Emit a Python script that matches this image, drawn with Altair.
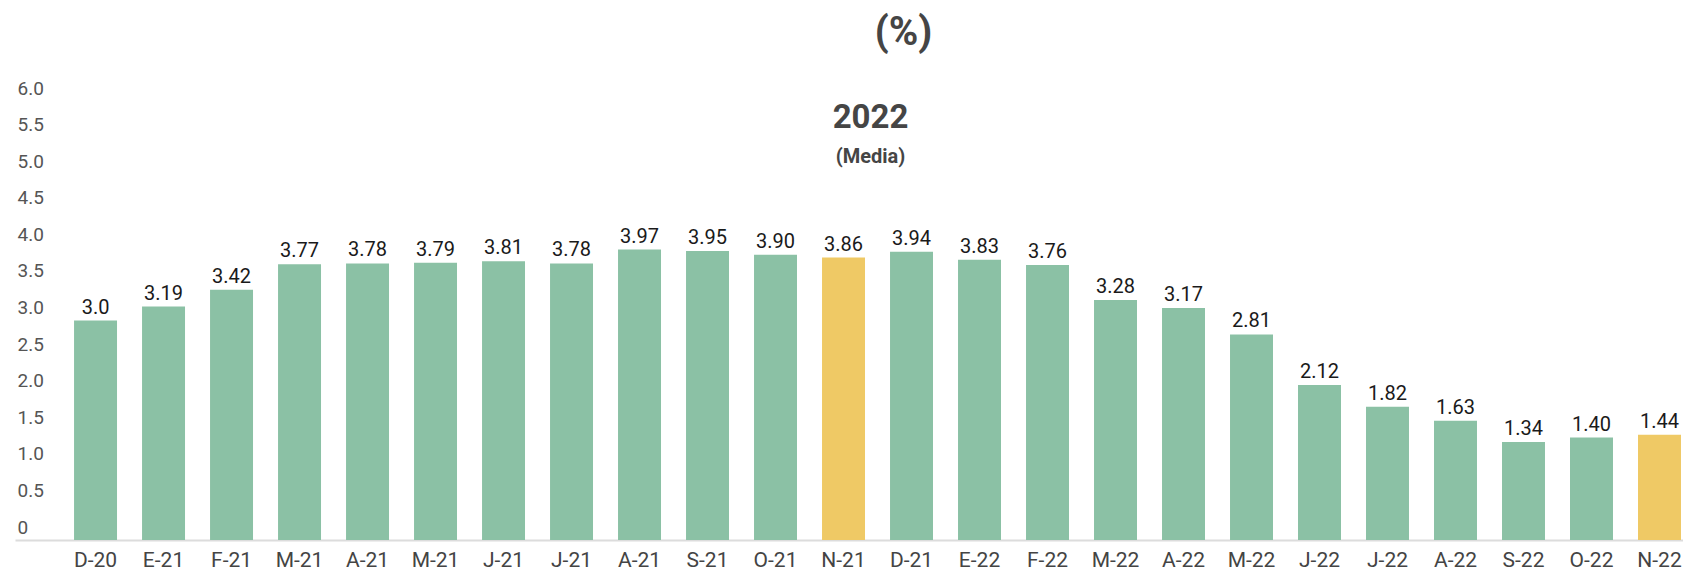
import altair as alt
import pandas as pd

# ---- data -------------------------------------------------------------
month_labels = ["D-20", "E-21", "F-21", "M-21", "A-21", "M-21", "J-21", "J-21",
                "A-21", "S-21", "O-21", "N-21", "D-21", "E-22", "F-22", "M-22",
                "A-22", "M-22", "J-22", "J-22", "A-22", "S-22", "O-22", "N-22"]
values = [3.0, 3.19, 3.42, 3.77, 3.78, 3.79, 3.81, 3.78, 3.97, 3.95, 3.90, 3.86,
          3.94, 3.83, 3.76, 3.28, 3.17, 2.81, 2.12, 1.82, 1.63, 1.34, 1.40, 1.44]
value_text = ["3.0", "3.19", "3.42", "3.77", "3.78", "3.79", "3.81", "3.78",
              "3.97", "3.95", "3.90", "3.86", "3.94", "3.83", "3.76", "3.28",
              "3.17", "2.81", "2.12", "1.82", "1.63", "1.34", "1.40", "1.44"]
highlight = ["N-21", "N-22"]          # highlighted months (yellow)
highlight_idx = [11, 23]

y_ticks = [0, 0.5, 1, 1.5, 2, 2.5, 3, 3.5, 4, 4.5, 5, 5.5, 6]

title_text = ["(%)"]
title_y = [6.93]

annot_text = ["2022", "(Media)"]
annot_y = [5.77, 5.23]
annot_size = [33, 20]

# ---- tables -----------------------------------------------------------
idx = list(range(len(month_labels)))
df = pd.DataFrame({
    "idx": idx,
    "mes": month_labels,
    "valor": values,
    "texto": value_text,
    "grupo": ["destacado" if i in highlight_idx else "normal" for i in idx],
})
ann = pd.DataFrame({
    "idx": [11] * len(annot_text),
    "t": annot_text,
    "valor": annot_y,
    "s": annot_size,
})
ttl = pd.DataFrame({"idx": [11], "t": title_text, "valor": title_y})

label_array = "[" + ",".join("'" + m + "'" for m in month_labels) + "]"

x_axis = alt.Axis(
    title=None,
    labelExpr=label_array + "[datum.value]",
    labelAngle=0,
    labelFont="Roboto",
    labelFontSize=21,
    labelColor="#444444",
    labelPadding=9,
    labelOverlap=False,
    ticks=False,
    domain=True,
    domainColor="#dcdcdc",
    domainWidth=2,
    grid=False,
)
x_scale = alt.Scale(domain=idx, paddingInner=0.368, paddingOuter=0.449, align=0.967)

y_axis = alt.Axis(
    title=None,
    values=y_ticks,
    labelExpr="datum.value == 0 ? '0' : format(datum.value, '.1f')",
    labelFont="Roboto",
    labelFontSize=19,
    labelColor="#555555",
    labelAlign="left",
    labelBaseline="alphabetic",
    labelOffset=-7,
    labelPadding=-2,
    labelOverlap=False,
    labelBound=False,
    tickSize=0,
    ticks=False,
    domain=False,
    grid=False,
)
y_scale = alt.Scale(domain=[0, 6], nice=False, zero=True)

X = alt.X("idx:O", scale=x_scale, axis=x_axis)
Y = alt.Y("valor:Q", scale=y_scale, axis=y_axis)

bars = alt.Chart(df).mark_bar().encode(
    x=X,
    y=Y,
    color=alt.Color(
        "grupo:N",
        scale=alt.Scale(domain=["normal", "destacado"], range=["#8BC1A5", "#EFC965"]),
        legend=None,
    ),
)

labels = alt.Chart(df).mark_text(
    font="Roboto", fontSize=20, color="#1a1a1a", baseline="alphabetic", dy=-7
).encode(x=X, y=Y, text="texto:N")

annotations = alt.Chart(ann).mark_text(
    font="Roboto", fontWeight="bold", color="#454545", baseline="middle", dx=27
).encode(
    x=X, y=Y, text="t:N",
    size=alt.Size("s:Q", scale=None, legend=None),
)

title_mark = alt.Chart(ttl).mark_text(
    font="Roboto", fontWeight="bold", fontSize=40, color="#454545",
    baseline="middle", dx=60
).encode(x=X, y=Y, text="t:N")

chart = alt.layer(bars, labels, annotations, title_mark).properties(
    width=1668,
    height=439,
    autosize=alt.AutoSizeParams(type="none"),
    padding={"left": 7, "top": 93, "right": 0, "bottom": 30},
    background="white",
).configure_view(stroke=None).configure_axis(labelOverlap=False)

chart.save("out.html", embed_options={"renderer": "svg", "actions": False})
